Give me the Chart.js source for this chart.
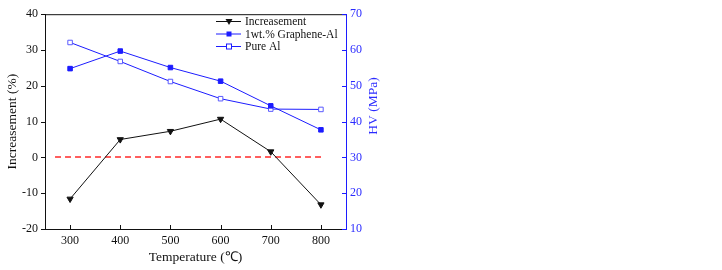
<!DOCTYPE html>
<html>
<head>
<meta charset="utf-8">
<script src="https://cdn.jsdelivr.net/npm/chart.js@4/dist/chart.umd.min.js"></script>
<style>
html,body{margin:0;padding:0;background:#fff;}
#wrap{position:relative;width:722px;height:270px;}
</style>
</head>
<body>
<div id="wrap"><canvas id="c" width="722" height="270"></canvas></div>
<script>
const temperatures = [300, 400, 500, 600, 700, 800];
const increasement = [-11.6, 5.0, 7.3, 10.7, 1.6, -13.2];
const grapheneAl = [54.8, 59.7, 55.1, 51.3, 44.4, 37.7];
const pureAl = [62.1, 56.8, 51.2, 46.4, 43.5, 43.4];
const zeroLineX = [270, 805];
const zeroLineY = [0, 0];
const xTickLabels = [300, 400, 500, 600, 700, 800];
const leftTickLabels = [-20, -10, 0, 10, 20, 30, 40];
const rightTickLabels = [10, 20, 30, 40, 50, 60, 70];
const seriesNames = ['Increasement', '1wt.% Graphene-Al', 'Pure Al'];
const axisTitles = { x: 'Temperature (\u2103)', left: 'Increasement (%)', right: 'HV (MPa)' };

const BLUE = '#1c1cff';
const BLUE_TXT = '#2b2bff';
const BLACK = '#111111';
const FONT = "'Liberation Serif', 'Times New Roman', serif";

const pts = (xs, ys) => xs.map((x, i) => ({ x: x, y: ys[i] }));

const framePlugin = {
  id: 'frame',
  beforeDatasetsDraw(chart) {
    // red dashed zero reference line, positioned through the scales
    const ctx = chart.ctx;
    const sx = chart.scales.x, sy = chart.scales.y;
    ctx.save();
    ctx.strokeStyle = '#ff2828';
    ctx.lineWidth = 1.5;
    ctx.setLineDash([6, 4]);
    const x0 = sx.getPixelForValue(zeroLineX[0]), x1 = sx.getPixelForValue(zeroLineX[1]);
    const y0 = Math.round(sy.getPixelForValue(zeroLineY[0]));
    const y1 = Math.round(sy.getPixelForValue(zeroLineY[1]));
    ctx.beginPath(); ctx.moveTo(x0, y0); ctx.lineTo(x1, y1); ctx.stroke();
    ctx.restore();
  },
  afterDraw(chart) {
    const ctx = chart.ctx;
    const a = chart.chartArea;
    const sx = chart.scales.x, sy = chart.scales.y, sy1 = chart.scales.y1;
    ctx.save();
    ctx.lineWidth = 1;
    // top border
    ctx.strokeStyle = BLACK;
    ctx.beginPath(); ctx.moveTo(a.left, a.top + 0.5); ctx.lineTo(a.right, a.top + 0.5); ctx.stroke();
    // bottom ticks (inward)
    xTickLabels.forEach(v => {
      const px = Math.round(sx.getPixelForValue(v)) + 0.5;
      ctx.beginPath(); ctx.moveTo(px, a.bottom); ctx.lineTo(px, a.bottom - 4); ctx.stroke();
    });
    // left ticks (outward)
    leftTickLabels.forEach(v => {
      const py = Math.round(sy.getPixelForValue(v)) + 0.5;
      ctx.beginPath(); ctx.moveTo(a.left - 4, py); ctx.lineTo(a.left, py); ctx.stroke();
    });
    // right ticks (inward)
    ctx.strokeStyle = BLUE;
    rightTickLabels.forEach(v => {
      const py = Math.round(sy1.getPixelForValue(v)) + 0.5;
      ctx.beginPath(); ctx.moveTo(a.right - 4, py); ctx.lineTo(a.right + 1, py); ctx.stroke();
    });
    // right axis title (reads bottom to top)
    ctx.fillStyle = BLUE_TXT;
    ctx.font = '13.5px ' + FONT;
    ctx.textAlign = 'center';
    ctx.textBaseline = 'middle';
    ctx.translate(373, 106);
    ctx.rotate(-Math.PI / 2);
    ctx.fillText(axisTitles.right, 0, 0);
    ctx.restore();

    // legend
    ctx.save();
    ctx.font = '11.5px ' + FONT;
    ctx.textAlign = 'left';
    ctx.textBaseline = 'middle';
    const rows = [21.5, 34, 46.5];
    const ds = chart.data.datasets;
    rows.forEach((yy, i) => {
      const d = ds[i];
      ctx.strokeStyle = d.borderColor;
      ctx.lineWidth = 1;
      ctx.beginPath(); ctx.moveTo(216, yy); ctx.lineTo(241, yy); ctx.stroke();
      const cx = 229;
      if (i === 0) {
        ctx.fillStyle = BLACK;
        ctx.beginPath();
        ctx.moveTo(cx - 3.5, yy - 2.5); ctx.lineTo(cx + 3.5, yy - 2.5); ctx.lineTo(cx, yy + 3.5);
        ctx.closePath(); ctx.fill();
      } else if (i === 1) {
        ctx.fillStyle = BLUE;
        ctx.fillRect(cx - 2.5, yy - 2.5, 5, 5);
      } else {
        ctx.fillStyle = '#fff';
        ctx.fillRect(cx - 2.5, yy - 2.5, 5, 5);
        ctx.strokeStyle = BLUE;
        ctx.strokeRect(cx - 2.5, yy - 2.5, 5, 5);
      }
      ctx.fillStyle = BLACK;
      ctx.fillText(seriesNames[i], 245, yy + 0.5);
    });
    ctx.restore();
  }
};

new Chart(document.getElementById('c'), {
  type: 'line',
  data: {
    datasets: [
      {
        label: seriesNames[0], data: pts(temperatures, increasement), yAxisID: 'y',
        borderColor: BLACK, backgroundColor: BLACK, borderWidth: 1,
        pointStyle: 'triangle', rotation: 180, pointRadius: 3.6,
        pointBackgroundColor: BLACK, pointBorderColor: BLACK, pointBorderWidth: 1, tension: 0
      },
      {
        label: seriesNames[1], data: pts(temperatures, grapheneAl), yAxisID: 'y1',
        borderColor: BLUE, backgroundColor: BLUE, borderWidth: 1,
        pointStyle: 'rect', pointRadius: 3.2,
        pointBackgroundColor: BLUE, pointBorderColor: BLUE, pointBorderWidth: 1, tension: 0
      },
      {
        label: seriesNames[2], data: pts(temperatures, pureAl), yAxisID: 'y1',
        borderColor: BLUE, backgroundColor: '#ffffff', borderWidth: 1,
        pointStyle: 'rect', pointRadius: 3.2,
        pointBackgroundColor: '#ffffff', pointBorderColor: '#5a5aff', pointBorderWidth: 1, tension: 0
      }
    ]
  },
  options: {
    responsive: false,
    animation: false,
    layout: { padding: { top: 5, left: 0, right: 0, bottom: 0 } },
    plugins: { legend: { display: false }, tooltip: { enabled: false } },
    scales: {
      x: {
        type: 'linear', min: 250, max: 850,
        afterBuildTicks: s => { s.ticks = xTickLabels.map(v => ({ value: v })); },
        afterFit: s => { s.height = 41; },
        grid: { display: false, drawTicks: false },
        border: { display: true, color: BLACK, width: 1 },
        ticks: { color: BLACK, padding: 5, maxRotation: 0, autoSkip: false, font: { family: FONT, size: 12 } },
        title: { display: true, text: axisTitles.x, color: BLACK, font: { family: FONT, size: 13.5 }, padding: { top: 0, bottom: 4 } }
      },
      y: {
        position: 'left', min: -20, max: 40,
        afterBuildTicks: s => { s.ticks = leftTickLabels.map(v => ({ value: v })); },
        afterFit: s => { s.width = 45; },
        grid: { display: false, drawTicks: false },
        border: { display: true, color: BLACK, width: 1 },
        ticks: { color: BLACK, padding: 7, font: { family: FONT, size: 12 } },
        title: { display: true, text: axisTitles.left, color: BLACK, font: { family: FONT, size: 13.5 }, padding: { top: 4, bottom: 0 } }
      },
      y1: {
        position: 'right', min: 10, max: 70,
        afterBuildTicks: s => { s.ticks = rightTickLabels.map(v => ({ value: v })); },
        afterFit: s => { s.width = 376; },
        grid: { display: false, drawTicks: false },
        border: { display: true, color: BLUE, width: 1 },
        ticks: { color: BLUE_TXT, padding: 4, font: { family: FONT, size: 12 } },
        title: { display: false }
      }
    }
  },
  plugins: [framePlugin]
});
</script>
</body>
</html>
